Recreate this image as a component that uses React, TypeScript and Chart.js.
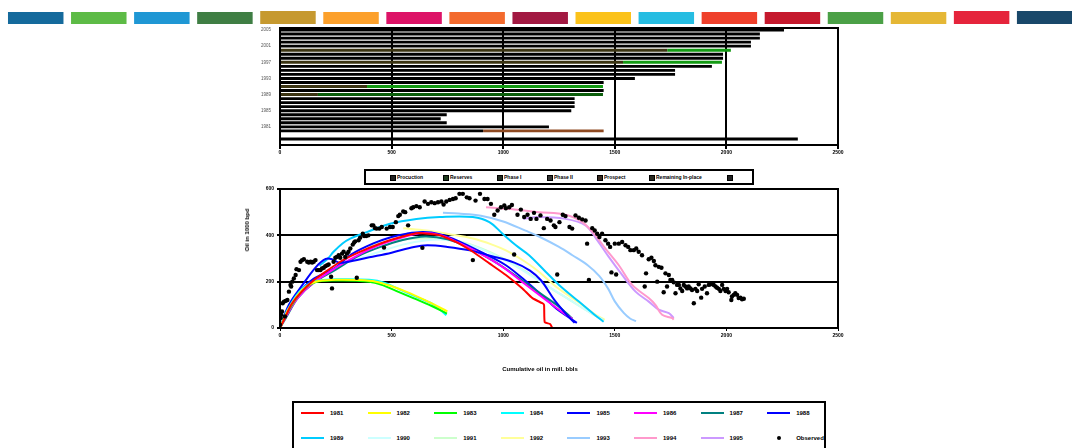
import React, { useEffect, useRef } from "react";
import { Chart, registerables } from "chart.js";
Chart.register(...registerables);

const FONT = "'Liberation Sans', Arial, Helvetica, sans-serif";

// ---------- top colour strip ----------
const stripColors = ["#156A9C", "#5DBB46", "#1F97D4", "#3F7E44", "#C6992F", "#FCA02B", "#DD1367", "#F36A2D", "#A21942", "#FBC21A", "#26BDE2", "#EF402B", "#C5192D", "#4BA046", "#E5B735", "#E5243B", "#19486A"];
const stripHeights = [12, 12, 12, 12, 13, 12, 12, 12, 12, 12, 12, 12, 12, 12, 12, 13, 13];

// ---------- horizontal bar chart ----------
const barYears = [2005, 2004, 2003, 2002, 2001, 2000, 1999, 1998, 1997, 1996, 1995, 1994, 1993, 1992, 1991, 1990, 1989, 1988, 1987, 1986, 1985, 1984, 1983, 1982, 1981, 1980, 1979, 1978, 1977];
const production = [2258, 2150, 2150, 2110, 2110, 1735, 1985, 1985, 1537, 1935, 1770, 1770, 1590, 1450, 390, 1450, 170, 1320, 1320, 1320, 1305, 747, 720, 747, 1205, 910, 0, 2320, 0];
const reserves = [0, 0, 0, 0, 0, 285, 0, 0, 443, 0, 0, 0, 0, 0, 1057, 0, 0, 0, 0, 0, 0, 0, 0, 0, 0, 0, 0, 0, 0];
const phaseOne = [0, 0, 0, 0, 0, 0, 0, 0, 0, 0, 0, 0, 0, 0, 0, 0, 1277, 0, 0, 0, 0, 0, 0, 0, 0, 0, 0, 0, 0];
const phaseTwo = [0, 0, 0, 0, 0, 0, 0, 0, 0, 0, 0, 0, 0, 0, 0, 0, 0, 0, 0, 0, 0, 0, 0, 0, 0, 0, 0, 0, 0];
const prospect = [0, 0, 0, 0, 0, 0, 0, 0, 0, 0, 0, 0, 0, 0, 0, 0, 0, 0, 0, 0, 0, 0, 0, 0, 0, 540, 0, 0, 0];
const remaining = [0, 0, 0, 0, 0, 0, 0, 0, 0, 0, 0, 0, 0, 0, 0, 0, 0, 0, 0, 0, 0, 0, 0, 0, 0, 0, 0, 0, 0];
const blankSeries = [0, 0, 0, 0, 0, 0, 0, 0, 0, 0, 0, 0, 0, 0, 0, 0, 0, 0, 0, 0, 0, 0, 0, 0, 0, 0, 0, 0, 0];
const barLegend = ["Procuction", "Reserves", "Phase I", "Phase II", "Prospect", "Remaining In-place", ""];
const barColors = ["#000000", "#139a13", "#0b5e0b", "#444444", "#8f4a22", "#4a4020", "#111111"];
const legendMarkerColors = ["#222222", "#1d3a1d", "#202a20", "#333333", "#3a2a20", "#2a2a20", "#222222"];
const barLegendX = [390, 443, 497, 547, 597, 649, 727];

// ---------- line chart ----------
const s1981 = [[0, 0], [20, 40], [50, 100], [100, 160], [150, 205], [200, 240], [270, 286], [350, 325], [450, 365], [550, 395], [620, 410], [715, 400], [790, 371], [864, 329], [938, 279], [1012, 229], [1086, 171], [1131, 129], [1175, 107], [1183, 100], [1186, 25], [1210, 17], [1220, 0]];
const s1982 = [[0, 0], [40, 85], [100, 165], [160, 200], [250, 208], [350, 207], [430, 200], [500, 180], [570, 155], [650, 120], [750, 72]];
const s1983 = [[0, 0], [35, 70], [90, 150], [150, 195], [250, 205], [400, 200], [460, 185], [520, 160], [600, 128], [680, 95], [748, 62]];
const s1984 = [[0, 0], [30, 70], [85, 155], [150, 200], [250, 210], [400, 208], [470, 195], [550, 160], [626, 128], [690, 100], [745, 55]];
const s1985 = [[0, 0], [40, 100], [100, 185], [160, 262], [205, 298], [235, 296], [265, 282], [300, 285], [400, 305], [500, 325], [600, 350], [660, 357], [750, 350], [850, 335], [950, 310], [1050, 282], [1120, 248], [1170, 205], [1230, 120], [1280, 62], [1320, 22]];
const s1986 = [[0, 0], [30, 55], [80, 130], [150, 195], [250, 260], [350, 315], [450, 360], [550, 392], [640, 410], [720, 400], [800, 368], [900, 320], [1000, 262], [1100, 188], [1200, 115], [1270, 65], [1310, 40]];
const s1987 = [[0, 0], [30, 50], [80, 130], [150, 195], [250, 252], [350, 310], [450, 350], [550, 380], [650, 395], [750, 383], [850, 345], [950, 293], [1050, 230], [1150, 160], [1250, 92], [1310, 40]];
const s1988 = [[0, 0], [40, 90], [100, 170], [150, 212], [250, 262], [320, 318], [418, 365], [500, 393], [567, 407], [641, 414], [715, 405], [800, 375], [900, 328], [1012, 271], [1116, 190], [1180, 135], [1240, 82], [1300, 42], [1330, 22]];
const s1989 = [[177, 269], [215, 300], [240, 329], [280, 365], [315, 386], [389, 414], [493, 450], [611, 471], [715, 479], [864, 479], [938, 457], [997, 407], [1057, 357], [1116, 314], [1190, 243], [1250, 186], [1339, 114], [1400, 65], [1428, 43], [1450, 27]];
const s1990 = [[250, 270], [350, 300], [450, 330], [550, 360], [650, 378], [750, 380], [850, 360], [950, 320], [1050, 270], [1150, 210], [1250, 150], [1350, 90], [1420, 50], [1445, 35]];
const s1991 = [[400, 355], [500, 375], [600, 385], [700, 385], [800, 375], [900, 345], [1000, 300], [1100, 245], [1200, 180], [1300, 120], [1400, 60], [1450, 35]];
const s1992 = [[552, 431], [656, 421], [760, 405], [864, 386], [950, 360], [1012, 335], [1100, 285], [1160, 243], [1234, 180], [1300, 135], [1354, 100], [1410, 60], [1455, 35]];
const s1993 = [[730, 497], [800, 494], [900, 485], [1000, 460], [1100, 420], [1160, 395], [1250, 350], [1310, 314], [1380, 270], [1430, 225], [1470, 170], [1500, 115], [1540, 65], [1570, 40], [1595, 30]];
const s1994 = [[923, 521], [1050, 512], [1160, 500], [1279, 489], [1354, 457], [1413, 400], [1458, 343], [1518, 271], [1578, 186], [1652, 129], [1682, 100], [1712, 57], [1757, 43], [1764, 36]];
const s1995 = [[1090, 471], [1160, 479], [1279, 471], [1369, 443], [1421, 379], [1473, 307], [1533, 229], [1593, 157], [1652, 114], [1697, 79], [1742, 64], [1764, 43]];
const observed = [[0, 14], [3, 43], [5, 57], [9, 71], [22, 50], [12, 107], [18, 114], [25, 117], [33, 121], [40, 157], [47, 186], [50, 179], [55, 200], [62, 214], [70, 229], [74, 254], [85, 250], [92, 286], [99, 293], [107, 297], [122, 286], [129, 283], [137, 286], [144, 283], [151, 286], [159, 293], [166, 250], [174, 250], [181, 250], [188, 257], [196, 260], [203, 267], [211, 271], [218, 274], [229, 221], [233, 171], [240, 286], [248, 303], [255, 307], [263, 314], [270, 303], [278, 321], [285, 329], [292, 307], [300, 321], [307, 329], [315, 343], [326, 360], [332, 369], [337, 374], [344, 217], [352, 379], [359, 390], [371, 407], [377, 397], [386, 397], [396, 400], [411, 443], [418, 443], [426, 431], [433, 429], [445, 429], [456, 436], [466, 347], [478, 429], [493, 436], [505, 436], [519, 457], [530, 483], [537, 489], [552, 503], [561, 500], [574, 443], [589, 517], [597, 521], [611, 526], [626, 521], [638, 346], [648, 546], [663, 536], [678, 543], [693, 539], [708, 543], [723, 546], [733, 533], [745, 546], [760, 553], [775, 557], [787, 560], [804, 579], [819, 579], [837, 564], [849, 560], [864, 293], [876, 550], [896, 579], [916, 557], [930, 557], [945, 536], [960, 489], [975, 507], [990, 521], [1005, 529], [1012, 517], [1027, 521], [1039, 531], [1049, 317], [1064, 489], [1079, 511], [1094, 479], [1109, 489], [1123, 471], [1138, 497], [1149, 471], [1167, 486], [1182, 431], [1197, 471], [1212, 464], [1227, 443], [1234, 436], [1242, 231], [1252, 457], [1267, 489], [1279, 483], [1297, 436], [1309, 429], [1324, 486], [1339, 476], [1354, 469], [1369, 464], [1376, 364], [1384, 207], [1399, 431], [1410, 421], [1421, 407], [1431, 393], [1443, 407], [1458, 379], [1470, 364], [1479, 350], [1485, 240], [1500, 364], [1506, 231], [1518, 364], [1533, 371], [1548, 357], [1560, 350], [1570, 336], [1585, 336], [1596, 343], [1607, 329], [1622, 314], [1634, 179], [1640, 236], [1652, 297], [1664, 303], [1675, 289], [1682, 271], [1690, 200], [1697, 264], [1709, 260], [1719, 154], [1727, 236], [1734, 179], [1742, 229], [1749, 207], [1757, 207], [1764, 197], [1772, 150], [1779, 186], [1787, 186], [1794, 171], [1802, 160], [1809, 186], [1816, 179], [1824, 171], [1831, 179], [1839, 171], [1846, 164], [1854, 107], [1861, 169], [1869, 160], [1876, 189], [1887, 131], [1891, 169], [1903, 179], [1913, 150], [1921, 186], [1928, 189], [1936, 193], [1943, 186], [1951, 179], [1958, 174], [1966, 169], [1973, 160], [1981, 186], [1988, 169], [1996, 160], [2003, 169], [2010, 154], [2022, 121], [2025, 136], [2033, 143], [2040, 150], [2048, 143], [2055, 129], [2063, 131], [2070, 124], [2078, 126]];
const lineSeries = [s1981, s1982, s1983, s1984, s1985, s1986, s1987, s1988, s1989, s1990, s1991, s1992, s1993, s1994, s1995];
const lineLegend = ["1981", "1982", "1983", "1984", "1985", "1986", "1987", "1988", "1989", "1990", "1991", "1992", "1993", "1994", "1995"];
const lineColors = ["#ff0000", "#ffff00", "#00ff00", "#00ffff", "#0000ff", "#ff00ff", "#008080", "#0000ff", "#00ccff", "#ccffff", "#ccffcc", "#ffff99", "#99ccff", "#ff99cc", "#cc99ff"];
const observedLabel = "Observed";
const xTitle = "Cumulative oil in mill. bbls";
const yTitle = "Oil in 1000 bpd";

const framePlugin = {
  id: "frame",
  afterDraw(chart: any) {
    const { ctx, chartArea } = chart;
    const { left, top, right, bottom } = chartArea;
    ctx.save();
    ctx.strokeStyle = "#000";
    ctx.lineWidth = 2;
    ctx.strokeRect(left, top, right - left, bottom - top);
    ctx.restore();
  },
};

const plain = (v: any) => String(v);

export default function App() {
  const stripRef = useRef<HTMLCanvasElement>(null);
  const barRef = useRef<HTMLCanvasElement>(null);
  const lineRef = useRef<HTMLCanvasElement>(null);

  useEffect(() => {
    Chart.defaults.font.family = FONT;
    const charts: Chart[] = [];

    charts.push(
      new Chart(stripRef.current!, {
        type: "bar",
        data: {
          labels: stripColors.map((_, i) => String(i + 1)),
          datasets: [{ data: stripHeights, backgroundColor: stripColors, barPercentage: 0.88, categoryPercentage: 1 }],
        },
        options: {
          animation: false,
          responsive: false,
          layout: { padding: { left: 4.2, right: 3.8, top: 0, bottom: 0 } },
          plugins: { legend: { display: false }, tooltip: { enabled: false } },
          scales: { x: { display: false }, y: { display: false, min: 0, max: 13 } },
        },
      } as any)
    );

    const mixed = (i: number) => reserves[i] > 0 || phaseOne[i] > 0;
    const barSets = [production, reserves, phaseOne, phaseTwo, prospect, remaining, blankSeries];
    charts.push(
      new Chart(barRef.current!, {
        type: "bar",
        data: {
          labels: barYears.map(String),
          datasets: barSets.map((d, k) => ({
            label: barLegend[k],
            data: d,
            backgroundColor: k === 0 ? (c: any) => (mixed(c.dataIndex) ? "#3b3412" : "#000") : barColors[k],
            barPercentage: 0.72,
            categoryPercentage: 1,
          })),
        },
        options: {
          animation: false,
          responsive: false,
          indexAxis: "y",
          layout: { padding: { left: 250, right: 234, top: 8, bottom: 0 } },
          plugins: { legend: { display: false }, tooltip: { enabled: false } },
          scales: {
            x: {
              stacked: true,
              min: 0,
              max: 2500,
              ticks: { stepSize: 500, color: "#000", font: { size: 5, weight: "bold" }, padding: 1, maxRotation: 0, callback: plain },
              grid: { color: "#000", lineWidth: 2, tickLength: 4 },
              border: { color: "#000", width: 2 },
              afterFit: (s: any) => { s.height = 15; },
            },
            y: {
              stacked: true,
              grid: { display: false },
              border: { color: "#000", width: 2 },
              ticks: {
                autoSkip: false,
                color: "#555",
                font: { size: 4.5 },
                padding: 1,
                callback: (_v: any, i: number) => {
                  const yr = barYears[i];
                  return yr >= 1981 && (2005 - yr) % 4 === 0 ? String(yr) : "";
                },
              },
              afterFit: (s: any) => { s.width = 30; },
            },
          },
        },
        plugins: [framePlugin],
      } as any)
    );

    const lineSets: any[] = [
      {
        label: observedLabel,
        data: observed.map(([x, y]) => ({ x, y })),
        showLine: false,
        pointRadius: 2.2,
        pointBackgroundColor: "#000",
        pointBorderWidth: 0,
      },
      ...lineSeries.map((d, i) => ({
        label: lineLegend[i],
        data: d.map(([x, y]) => ({ x, y })),
        showLine: true,
        borderColor: lineColors[i],
        borderWidth: 2,
        pointRadius: 0,
        tension: i === 0 ? 0.15 : 0.35,
        fill: false,
      })),
    ];
    charts.push(
      new Chart(lineRef.current!, {
        type: "scatter",
        data: { datasets: lineSets },
        options: {
          animation: false,
          responsive: false,
          layout: { padding: { left: 240, right: 234, top: 9, bottom: 0 } },
          plugins: { legend: { display: false }, tooltip: { enabled: false } },
          scales: {
            x: {
              type: "linear",
              min: 0,
              max: 2500,
              ticks: { stepSize: 500, color: "#000", font: { size: 5, weight: "bold" }, padding: 1.5, maxRotation: 0, callback: plain },
              grid: { drawOnChartArea: false, color: "#000", tickLength: 3 },
              border: { color: "#000", width: 2 },
              afterFit: (s: any) => { s.height = 52; },
            },
            y: {
              min: 0,
              max: 600,
              ticks: { stepSize: 200, color: "#000", font: { size: 5, weight: "bold" }, padding: 3, callback: plain },
              grid: { color: "#000", lineWidth: 2, tickLength: 3 },
              border: { color: "#000", width: 2 },
              afterFit: (s: any) => { s.width = 40; },
            },
          },
        },
        plugins: [framePlugin],
      } as any)
    );

    return () => charts.forEach((c) => c.destroy());
  }, []);

  const legendItems = [...lineLegend, observedLabel];

  return (
    <div style={{ position: "absolute", left: 0, top: 0, width: 1072, height: 448, overflow: "hidden", background: "#fff", fontFamily: FONT }}>
      <canvas ref={stripRef} width={1080} height={13} style={{ position: "absolute", left: 0, top: 11, width: 1080, height: 13 }} />
      <canvas ref={barRef} width={1072} height={140} style={{ position: "absolute", left: 0, top: 20, width: 1072, height: 140 }} />

      <div style={{ position: "absolute", left: 364, top: 169, width: 390, height: 16, border: "2px solid #000", boxSizing: "border-box" }}>
        {barLegend.map((t, k) => (
          <div key={k} style={{ position: "absolute", left: barLegendX[k] - 366, top: 3, height: 7, display: "flex", alignItems: "center", whiteSpace: "nowrap" }}>
            <span style={{ display: "inline-block", width: 4, height: 4, background: legendMarkerColors[k], border: "0.5px solid #000", marginRight: 1 }} />
            <span style={{ fontSize: 5, fontWeight: "bold", color: "#000", lineHeight: "7px" }}>{t}</span>
          </div>
        ))}
      </div>

      <canvas ref={lineRef} width={1072} height={200} style={{ position: "absolute", left: 0, top: 180, width: 1072, height: 200 }} />

      <div style={{ position: "absolute", left: 247, top: 230, transform: "translate(-50%, -50%) rotate(-90deg)", fontSize: 6, fontWeight: "bold", whiteSpace: "nowrap", color: "#000" }}>{yTitle}</div>
      <div style={{ position: "absolute", left: 440, width: 200, top: 366, textAlign: "center", fontSize: 6, fontWeight: "bold", whiteSpace: "nowrap", color: "#000" }}>{xTitle}</div>

      <div style={{ position: "absolute", left: 292, top: 401, width: 534, height: 60, border: "2px solid #000", boxSizing: "border-box" }}>
        {legendItems.map((t, i) => {
          const col = i % 8;
          const row = Math.floor(i / 8);
          const lx = 7 + 66.6 * col;
          const ly = row === 0 ? 10 : 35;
          const isObs = i === lineLegend.length;
          return (
            <React.Fragment key={i}>
              {isObs ? (
                <span style={{ position: "absolute", left: lx + 10, top: ly - 2, width: 4, height: 4, borderRadius: 2, background: "#000" }} />
              ) : (
                <span style={{ position: "absolute", left: lx, top: ly - 1, width: 23, height: 2, background: lineColors[i] }} />
              )}
              <span style={{ position: "absolute", left: lx + 29, top: ly - 4, fontSize: 6, fontWeight: "bold", lineHeight: "8px", whiteSpace: "nowrap", color: "#000" }}>{t}</span>
            </React.Fragment>
          );
        })}
      </div>
    </div>
  );
}
